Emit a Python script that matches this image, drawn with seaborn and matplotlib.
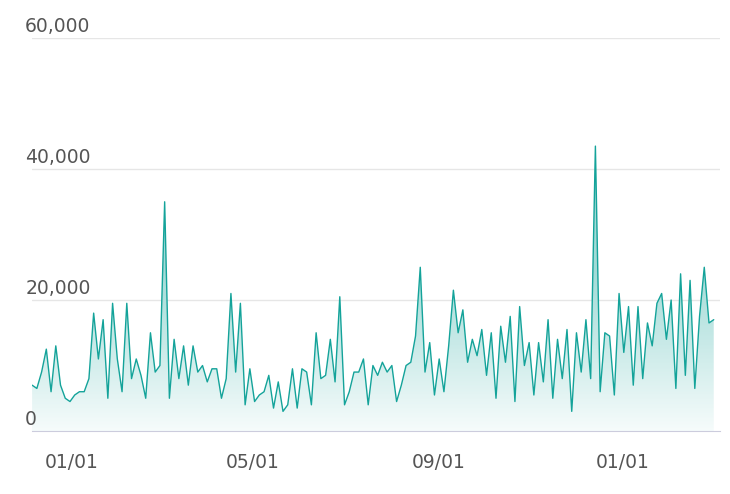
import numpy as np
import pandas as pd
import matplotlib
matplotlib.use("Agg")
import matplotlib.pyplot as plt
import matplotlib.dates as mdates
from matplotlib.patches import Polygon
import seaborn as sns

start_date = "2020-12-06"
end_date = "2022-03-02"
values = [
    7000, 6500, 9000, 12500, 6000, 13000, 7000, 5000, 4500, 5500,
    6000, 6000, 8000, 18000, 11000, 17000, 5000, 19500, 11000, 6000,
    19500, 8000, 11000, 8500, 5000, 15000, 9000, 10000, 35000, 5000,
    14000, 8000, 13000, 7000, 13000, 9000, 10000, 7500, 9500, 9500,
    5000, 8000, 21000, 9000, 19500, 4000, 9500, 4500, 5500, 6000,
    8500, 3500, 7500, 3000, 4000, 9500, 3500, 9500, 9000, 4000,
    15000, 8000, 8500, 14000, 7500, 20500, 4000, 6000, 9000, 9000,
    11000, 4000, 10000, 8500, 10500, 9000, 10000, 4500, 7000, 10000,
    10500, 14500, 25000, 9000, 13500, 5500, 11000, 6000, 13000, 21500,
    15000, 18500, 10500, 14000, 11500, 15500, 8500, 15000, 5000, 16000,
    10500, 17500, 4500, 19000, 10000, 13500, 5500, 13500, 7500, 17000,
    5000, 14000, 8000, 15500, 3000, 15000, 9000, 17000, 8000, 43500,
    6000, 15000, 14500, 5500, 21000, 12000, 19000, 7000, 19000, 8000,
    16500, 13000, 19500, 21000, 14000, 20000, 6500, 24000, 8500, 23000,
    6500, 17500, 25000, 16500, 17000,
]
y_ticks = [0, 20000, 40000, 60000]

dates = pd.date_range(start_date, end_date, periods=len(values))
df = pd.DataFrame({"date": dates, "value": values})

sns.set_style("white")
fig = plt.figure(figsize=(7.3, 4.94), dpi=100)
ax = fig.add_axes([0.044, 0.1275, 0.942, 0.7955])

line_color = "#14a39a"
sns.lineplot(data=df, x="date", y="value", ax=ax, color=line_color, linewidth=1.0)

# gradient fill under the line
xnum = mdates.date2num(df["date"])
x0, x1 = xnum.min(), xnum.max()
cmap = matplotlib.colors.LinearSegmentedColormap.from_list("g", ["#ffffff", line_color])
ys = np.linspace(0, 45000, 256)
shade = 0.04 + 0.36 * np.clip(ys / 25000, 0, 1)
img = ax.imshow(shade.reshape(-1, 1), extent=[x0, x1, 0, 45000],
                aspect="auto", cmap=cmap, vmin=0, vmax=1, origin="lower", zorder=1)
verts = np.column_stack([np.r_[x0, xnum, x1], np.r_[0, df["value"], 0]])
poly = Polygon(verts, closed=True, transform=ax.transData, facecolor="none", edgecolor="none")
ax.add_patch(poly)
img.set_clip_path(poly)

ax.set_xlim(mdates.date2num(pd.Timestamp("2020-12-07")) - 1, x1 + 4)
ax.set_ylim(0, 60000)

for t in y_ticks[1:]:
    ax.axhline(t, color="#e6e6e6", linewidth=1, zorder=0)
ax.set_yticks([])
for t in y_ticks:
    ax.text(-0.01, t + 300, f"{t:,}", transform=ax.get_yaxis_transform(),
            ha="left", va="bottom", fontsize=13.5, color="#555555")

ax.xaxis.set_major_locator(mdates.MonthLocator(bymonth=[1, 5, 9]))
ax.xaxis.set_major_formatter(mdates.DateFormatter("%m/%d"))
ax.tick_params(axis="x", length=6, color="#ccccdd", labelsize=13.5, labelcolor="#555555", pad=10)
ax.set_xlabel("")
ax.set_ylabel("")
for s in ["top", "right", "left"]:
    ax.spines[s].set_visible(False)
ax.spines["bottom"].set_color("#ccccdd")

fig.savefig("out.png", dpi=100)
